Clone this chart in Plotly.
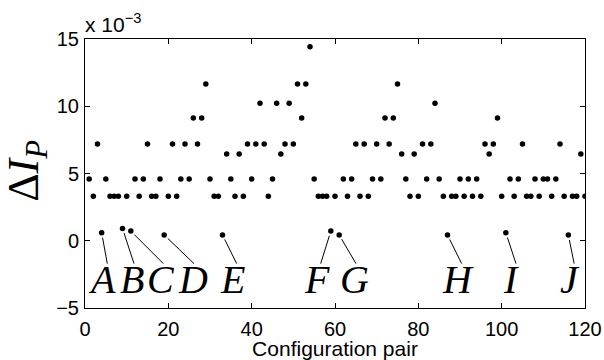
import plotly.graph_objects as go

# ---- data (values in units of 1e-3) ----
config_pair = list(range(1, 121))
delta_ip = [
    4.6, 3.3, 7.2, 0.6, 4.6, 3.3, 3.3, 3.3, 0.92, 3.3,
    0.72, 4.6, 3.3, 4.6, 7.2, 3.3, 3.3, 4.6, 0.43, 3.3,
    7.2, 3.3, 4.6, 7.2, 4.6, 9.13, 7.2, 9.13, 11.65, 4.6,
    3.3, 3.3, 0.43, 6.45, 4.6, 3.3, 6.45, 3.3, 7.2, 4.6,
    7.2, 10.22, 7.2, 3.3, 4.6, 10.22, 6.45, 7.2, 10.22, 7.2,
    11.65, 9.13, 11.65, 14.43, 4.6, 3.3, 3.3, 3.3, 0.72, 3.3,
    0.43, 4.6, 3.3, 4.6, 7.2, 3.3, 7.2, 3.3, 4.6, 7.2,
    4.6, 9.13, 7.2, 9.13, 11.65, 6.45, 4.6, 3.3, 6.45, 3.3,
    7.2, 4.6, 7.2, 10.22, 4.6, 3.3, 0.43, 3.3, 3.3, 4.6,
    3.3, 4.6, 3.3, 4.6, 3.3, 7.2, 6.45, 7.2, 9.13, 3.3,
    0.6, 4.6, 3.3, 4.6, 7.2, 3.3, 3.3, 4.6, 3.3, 4.6,
    4.6, 3.3, 4.6, 7.2, 3.3, 0.43, 3.3, 3.3, 6.45, 3.3,
]

label_names = ["A", "B", "C", "D", "E", "F", "G", "H", "I", "J"]
label_pairs = [4, 9, 11, 19, 33, 59, 61, 87, 101, 116]  # configuration pair that each label marks
label_text_x = [4.0, 11.2, 18.2, 25.8, 35.4, 55.6, 64.6, 89.6, 102.2, 116.4]
label_line_end_x = [5.35, 11.76, 18.8, 26.16, 36.4, 56.56, 65.04, 90.4, 103.44, 117.4]
label_text_y = -2.9
label_line_end_y = -1.7

x_ticks = [0, 20, 40, 60, 80, 100, 120]
y_ticks = [-5, 0, 5, 10, 15]

# ---- figure ----
W, H = 604, 360
L, R, T, B = 85, 19, 39, 52
px_per_x = (W - L - R) / 120.0
px_per_y = (H - T - B) / 20.0

fig = go.Figure()
fig.add_trace(go.Scatter(
    x=config_pair, y=delta_ip, mode="markers",
    marker=dict(color="black", size=5.5),
    showlegend=False, hoverinfo="x+y",
))

shapes = []
annotations = []
for name, pair, tx, ex in zip(label_names, label_pairs, label_text_x, label_line_end_x):
    dx0 = pair
    dy0 = delta_ip[pair - 1]
    vx = (ex - dx0) * px_per_x
    vy = (label_line_end_y - dy0) * px_per_y
    n = (vx ** 2 + vy ** 2) ** 0.5
    off = 5.0
    sx = dx0 + vx / n * off / px_per_x
    sy = dy0 + vy / n * off / px_per_y
    shapes.append(dict(type="line", xref="x", yref="y", x0=sx, y0=sy,
                       x1=ex, y1=label_line_end_y,
                       line=dict(color="black", width=1)))
    annotations.append(dict(x=tx, y=label_text_y, xref="x", yref="y",
                            text="<i>%s</i>" % name, showarrow=False,
                            font=dict(family="Liberation Serif", size=40, color="black"),
                            xanchor="center", yanchor="middle"))

annotations.append(dict(x=0, y=1, xref="paper", yref="paper", xanchor="left", yanchor="bottom",
                        yshift=1, xshift=-2, text="x 10<sup>\u22123</sup>", showarrow=False,
                        font=dict(family="Liberation Sans", size=21, color="black")))
annotations.append(dict(x=-0.116, y=0.51, xref="paper", yref="paper",
                        xanchor="center", yanchor="middle", textangle=-90,
                        text="Δ<i>I</i><sub><i>P</i></sub>", showarrow=False,
                        font=dict(family="Liberation Serif", size=44, color="black")))

axis_common = dict(showgrid=False, zeroline=False, showline=True, linecolor="black",
                   linewidth=1, mirror="ticks", ticks="inside", ticklen=5, automargin=False,
                   tickcolor="black", tickfont=dict(family="Liberation Sans", size=20, color="black"))

fig.update_layout(
    width=W, height=H,
    margin=dict(l=L, r=R, t=T, b=B),
    paper_bgcolor="white", plot_bgcolor="white",
    xaxis=dict(range=[0, 120], tickvals=x_ticks, ticklabelstandoff=3,
               title=dict(text="Configuration pair", standoff=1,
                          font=dict(family="Liberation Sans", size=21, color="black")),
               **axis_common),
    yaxis=dict(range=[-5, 15], tickvals=y_ticks, ticktext=["\u22125", "0", "5", "10", "15"],
               ticklabelstandoff=1, **axis_common),
    shapes=shapes, annotations=annotations,
)

fig.write_html("out.html")
